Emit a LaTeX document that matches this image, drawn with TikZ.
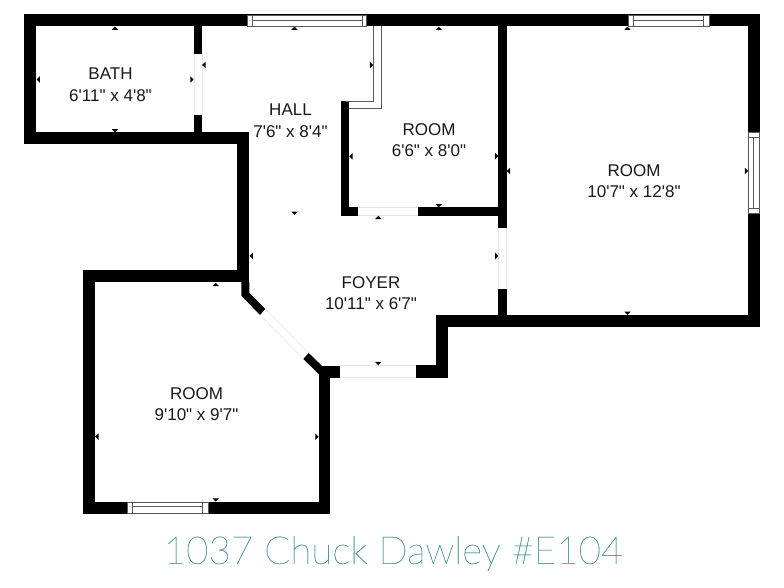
\documentclass[tikz,border=0pt]{standalone}
\usepackage{fontspec}
\newfontfamily\lblfont{Liberation Sans}
\newfontfamily\ttlfont[FakeBold=0.3]{Lato Thin}
\definecolor{teal1}{HTML}{4F9799}
\tikzset{
  wall/.style={fill=black},
  glass/.style={fill=white,draw=black!65,line width=0.7pt},
  pane/.style={draw=black!65,line width=0.7pt},
  doorline/.style={draw=black!10,line width=0.5pt},
  thinwall/.style={draw=black!65,line width=0.8pt},
  tick/.style={fill=black,draw=none},
  roomlabel/.style={font=\lblfont\fontsize{17}{21.5}\selectfont,align=center,text=black!90,inner sep=0pt},
  titlelabel/.style={font=\ttlfont\fontsize{38.5}{44}\selectfont,text=teal1,inner sep=0pt}
}
\newcommand{\tkU}[2]{\fill[tick] (#1-3.2,#2+3.3) -- (#1,#2) -- (#1+3.2,#2+3.3) -- cycle;}
\newcommand{\tkD}[2]{\fill[tick] (#1-3.2,#2-3.3) -- (#1,#2) -- (#1+3.2,#2-3.3) -- cycle;}
\newcommand{\tkL}[2]{\fill[tick] (#1+3.3,#2-3.2) -- (#1,#2) -- (#1+3.3,#2+3.2) -- cycle;}
\newcommand{\tkR}[2]{\fill[tick] (#1-3.3,#2-3.2) -- (#1,#2) -- (#1-3.3,#2+3.2) -- cycle;}
\begin{document}
\begin{tikzpicture}[x=1pt,y=-1pt]
\useasboundingbox (0,0) rectangle (784,588);
\fill[white] (0,0) rectangle (784,588);
% walls
\fill[wall] (24,14.5) rectangle (760,26);
\fill[wall] (24,14.5) rectangle (36,144.5);
\fill[wall] (24,132.5) -- (249.3,132.5) -- (249.3,144.5) -- (24,144.5) -- cycle;
\fill[wall] (194,26) rectangle (202,54);
\fill[wall] (194,115.5) rectangle (202,133);
\fill[wall] (237.3,132.5) rectangle (249.3,282);
\fill[wall] (341,101) rectangle (349,215.5);
\fill[wall] (341,207.5) rectangle (357.5,215.5);
\fill[wall] (418,207.5) rectangle (506.6,215.5);
\fill[wall] (498.4,26) rectangle (506.6,227.5);
\fill[wall] (498.4,288.5) rectangle (506.6,316);
\fill[wall] (748.3,14.5) rectangle (760,327);
\fill[wall] (435.8,315) rectangle (760,327);
\fill[wall] (435.8,315) rectangle (447.7,377.5);
\fill[wall] (416,365) rectangle (447.7,377.5);
\fill[wall] (83,270.3) rectangle (249.3,282);
\fill[wall] (83,270.3) rectangle (95,513.5);
\fill[wall] (83,501.7) rectangle (330.3,513.5);
\fill[wall] (318.7,365.5) rectangle (330.3,513.5);
\fill[wall] (318.7,365.5) rectangle (340,377.5);
\fill[wall] (241.3,282) -- (241.3,295.7) -- (260,315) -- (265.3,309) -- (249.3,293) -- (249.3,282) -- cycle;
\fill[wall] (308.7,353) -- (303.3,359) -- (318.7,374) -- (321.7,365.6) -- cycle;
% doors
\draw[doorline] (194,54) -- (194,115.5) (202,54) -- (202,115.5);
\draw[doorline] (357.5,207.5) -- (418,207.5) (357.5,215.5) -- (418,215.5);
\draw[doorline] (498.4,227.5) -- (498.4,288.5) (506.6,227.5) -- (506.6,288.5);
\draw[doorline] (340,365.2) -- (416,365.2) (340,377.5) -- (416,377.5);
\draw[doorline] (265.3,309) -- (308.7,353) (260,315) -- (303.3,359);
% thin closet wall
\draw[thinwall] (373.5,26) -- (373.5,101.3) -- (345,101.3);
\draw[thinwall] (381,26) -- (381,108.6) -- (349,108.6);
% windows
\draw[glass] (247.3,15) rectangle (366.7,26);
\draw[pane] (252.3,15) -- (252.3,26) (362.3,15) -- (362.3,26) (252.3,20.7) -- (362.3,20.7);
\draw[glass] (628,15) rectangle (709,26);
\draw[pane] (633.3,15) -- (633.3,26) (703.7,15) -- (703.7,26) (633.3,20.7) -- (703.7,20.7);
\draw[glass] (748.6,132.5) rectangle (759.7,213);
\draw[pane] (748.6,137.7) -- (759.7,137.7) (748.6,208) -- (759.7,208) (753.6,137.7) -- (753.6,208);
\draw[glass] (127.3,502) rectangle (208,513.3);
\draw[pane] (132.7,502) -- (132.7,513.3) (202.7,502) -- (202.7,513.3) (132.7,506.8) -- (202.7,506.8);
% dimension ticks
\tkU{115}{26.6} \tkD{115}{132.5} \tkL{36.5}{79.5} \tkR{193.7}{79.5}
\tkU{294.5}{26.6} \tkL{202.2}{65} \tkR{373.2}{65} \tkD{294.5}{215}
\tkU{438.7}{26.6} \tkL{349.2}{156.3} \tkR{498.4}{156.3} \tkD{438.7}{207.5}
\tkU{627.5}{26.6} \tkL{506.8}{171} \tkR{748.2}{171} \tkD{627.5}{315}
\tkU{378.3}{215.7} \tkL{249.5}{255.8} \tkR{498.4}{256} \tkD{378.3}{365.2}
\tkU{215.7}{282.8} \tkD{215.7}{501.7} \tkL{95.2}{436.7} \tkR{318.7}{436.7}
% labels
\node[roomlabel] (bath) at (110.5,84.5) {BATH\\6'11" x 4'8"};
\node[roomlabel] (hall) at (290.5,120.5) {HALL\\7'6" x 8'4"};
\node[roomlabel] (roomA) at (429,140) {ROOM\\6'6" x 8'0"};
\node[roomlabel] (roomB) at (634,181) {ROOM\\10'7" x 12'8"};
\node[roomlabel] (foyer) at (371,293) {FOYER\\10'11" x 6'7"};
\node[roomlabel] (roomC) at (196.5,404) {ROOM\\9'10" x 9'7"};
\node[titlelabel] (title) at (393.5,553.5) {1037 Chuck Dawley \#E104};
\end{tikzpicture}
\end{document}
